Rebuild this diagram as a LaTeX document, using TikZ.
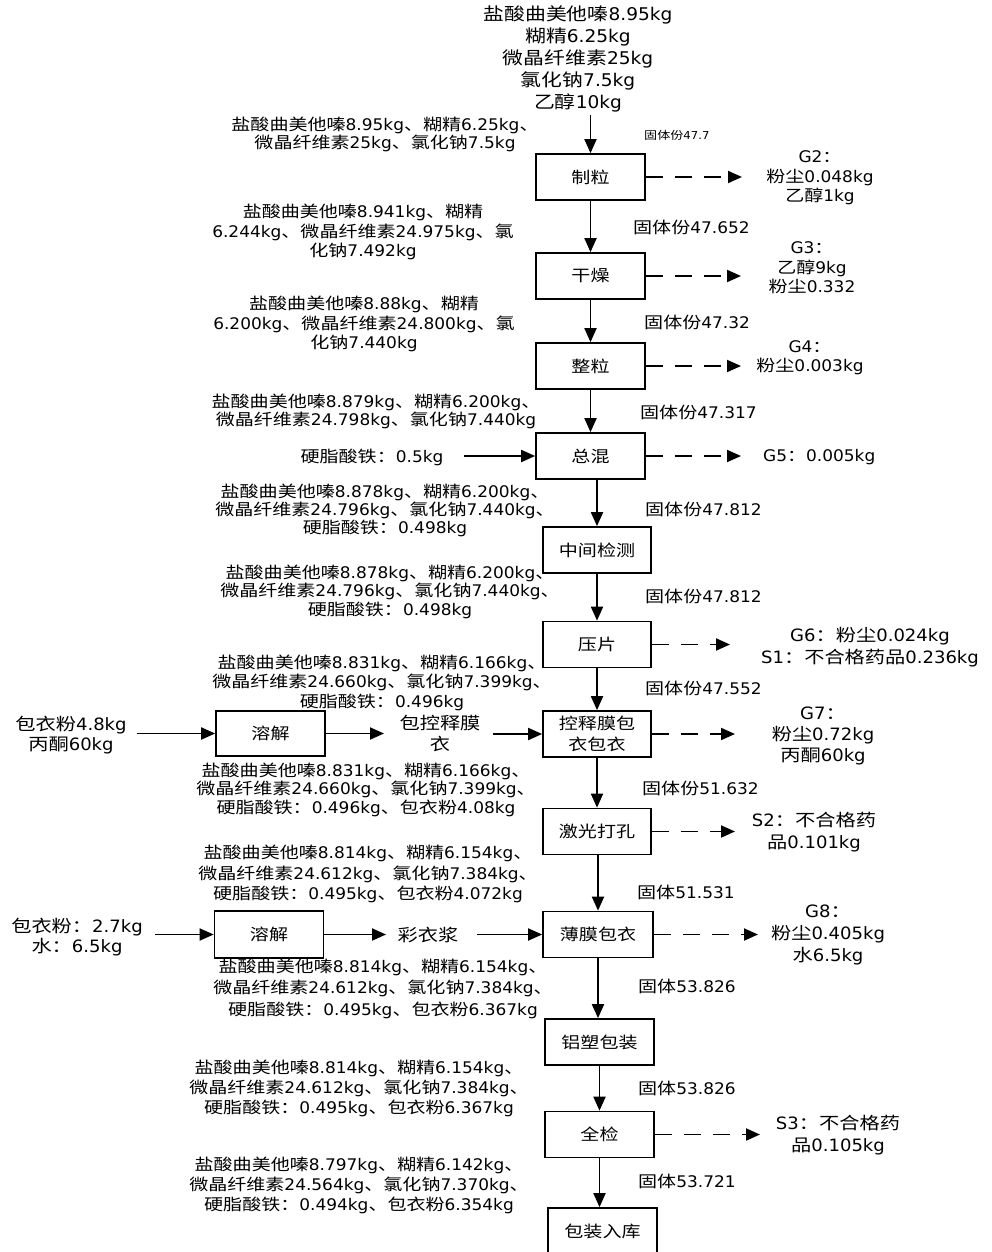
\documentclass[tikz,border=0pt]{standalone}
\usepackage{fontspec}
\setmainfont{DejaVu Sans}[FakeStretch=1.06]
\newfontfamily\latf{DejaVu Sans}[FakeStretch=1.06]
\newfontfamily\cjkf{Noto Sans CJK SC}[FakeStretch=1.19]
\usetikzlibrary{arrows.meta}
\XeTeXinterchartokenstate=1
\newXeTeXintercharclass\mycjk
\makeatletter
\count@="3000
\loop\XeTeXcharclass\count@=\mycjk \advance\count@ 1 \ifnum\count@<"3040 \repeat
\count@="4E00
\loop\XeTeXcharclass\count@=\mycjk \advance\count@ 1 \ifnum\count@<"A000 \repeat
\count@="FF00
\loop\XeTeXcharclass\count@=\mycjk \advance\count@ 1 \ifnum\count@<"FFF0 \repeat
\makeatother
\XeTeXinterchartoks 0 \mycjk = {\cjkf}
\XeTeXinterchartoks 4095 \mycjk = {\cjkf}
\XeTeXinterchartoks \mycjk 0 = {\latf}
\XeTeXinterchartoks \mycjk 4095 = {\latf}
\tikzset{
  arr/.style={line width=1.9pt, -{Triangle[length=14pt,width=12pt]}},
  darr/.style={line width=1.9pt, dash pattern=on 17pt off 12pt, -{Triangle[length=14pt,width=12pt]}},
  pbox/.style={draw, line width=1.7pt, minimum width=109pt, minimum height=46pt, inner sep=0pt, align=center, font=\fontsize{16}{21}\selectfont},
  txt/.style={inner sep=0pt, align=center, font=\fontsize{16}{#1}\selectfont},
  txt/.default=19.5,
  bigtxt/.style={inner sep=0pt, align=center, font=\fontsize{17}{#1}\selectfont},
  bigtxt/.default=22,
  toptxt/.style={inner sep=0pt, align=center, font=\fontsize{17.5}{22}\selectfont},
  sol/.style={inner sep=0pt, anchor=west, font=\fontsize{16}{19}\selectfont},
  smalltxt/.style={inner sep=0pt, anchor=west, font=\fontsize{11}{13}\selectfont}
}
\begin{document}
\begin{tikzpicture}[x=1pt,y=-1pt]
\useasboundingbox (0,0) rectangle (991,1252);
% process boxes
\node[pbox] (zl) at (590.5,177) {制粒};
\node[pbox] (gz) at (590.5,276) {干燥};
\node[pbox] (zhl) at (590.5,366) {整粒};
\node[pbox] (zh) at (590.5,456) {总混};
\node[pbox, minimum width=108pt] (jc) at (597,550) {中间检测};
\node[pbox, minimum width=108pt] (yp) at (597,644.5) {压片};
\node[pbox, minimum width=108pt] (kz) at (597,734) {控释膜包\\衣包衣};
\node[pbox, minimum width=108pt] (jg) at (597,831.5) {激光打孔};
\node[pbox, minimum width=110pt] (bm) at (598,934.5) {薄膜包衣};
\node[pbox] (ls) at (599.5,1042) {铝塑包装};
\node[pbox] (qj) at (599.5,1134.5) {全检};
\node[pbox, minimum height=47pt] (bz) at (602.5,1231.5) {包装入库};
\node[pbox, minimum height=45pt] (rj1) at (270.5,733.5) {溶解};
\node[pbox, minimum height=47pt] (rj2) at (269,934.5) {溶解};
% main flow
\coordinate (topin) at (590.5,115);
\draw[arr] (topin) -- (zl.north);
\draw[arr] (zl) -- (gz);
\draw[arr] (gz) -- (zhl);
\draw[arr] (zhl) -- (zh);
\draw[arr] (zh.south -| jc.north) -- (jc.north);
\draw[arr] (jc) -- (yp);
\draw[arr] (yp) -- (kz);
\draw[arr] (kz) -- (jg);
\draw[arr] (jg.south -| bm.north) -- (bm.north);
\draw[arr] (bm.south) -- (bm.south |- ls.north);
\draw[arr] (ls) -- (qj);
\draw[arr] (qj.south) -- (qj.south |- bz.north);
% top texts
\node[toptxt] (t0) at (578,59) {盐酸曲美他嗪8.95kg\\糊精6.25kg\\微晶纤维素25kg\\氯化钠7.5kg\\乙醇10kg};
\node[txt=18] (l1) at (385,134) {盐酸曲美他嗪8.95kg、糊精6.25kg、\\微晶纤维素25kg、氯化钠7.5kg};
\node[txt] (l2) at (363,232) {盐酸曲美他嗪8.941kg、糊精\\6.244kg、微晶纤维素24.975kg、氯\\化钠7.492kg};
\node[txt] (l3) at (364,324) {盐酸曲美他嗪8.88kg、糊精\\6.200kg、微晶纤维素24.800kg、氯\\化钠7.440kg};
\node[txt=18] (l4) at (376,411) {盐酸曲美他嗪8.879kg、糊精6.200kg、\\微晶纤维素24.798kg、氯化钠7.440kg};
\node[txt] (fe) at (372,457) {硬脂酸铁：0.5kg};
\node[txt=18] (l6) at (385,510) {盐酸曲美他嗪8.878kg、糊精6.200kg、\\微晶纤维素24.796kg、氯化钠7.440kg、\\硬脂酸铁：0.498kg};
\node[txt=18.5] (l7) at (390,591.5) {盐酸曲美他嗪8.878kg、糊精6.200kg、\\微晶纤维素24.796kg、氯化钠7.440kg、\\硬脂酸铁：0.498kg};
\node[txt] (l8) at (382,682.5) {盐酸曲美他嗪8.831kg、糊精6.166kg、\\微晶纤维素24.660kg、氯化钠7.399kg、\\硬脂酸铁：0.496kg};
\node[bigtxt=20] (in1) at (71,735) {包衣粉4.8kg\\丙酮60kg};
\node[bigtxt=21] (kt1) at (440,733.5) {包控释膜\\衣};
\node[txt=18.5] (l11) at (366,789.5) {盐酸曲美他嗪8.831kg、糊精6.166kg、\\微晶纤维素24.660kg、氯化钠7.399kg、\\硬脂酸铁：0.496kg、包衣粉4.08kg};
\node[txt=20.5] (l12) at (368,874) {盐酸曲美他嗪8.814kg、糊精6.154kg、\\微晶纤维素24.612kg、氯化钠7.384kg、\\硬脂酸铁：0.495kg、包衣粉4.072kg};
\node[bigtxt=20] (in2) at (77,937) {包衣粉：2.7kg\\水：6.5kg};
\node[bigtxt] (cy) at (428,935) {彩衣浆};
\node[txt=21.5] (l13) at (383,988.5) {盐酸曲美他嗪8.814kg、糊精6.154kg、\\微晶纤维素24.612kg、氯化钠7.384kg、\\硬脂酸铁：0.495kg、包衣粉6.367kg};
\node[txt=20] (l14) at (359,1088) {盐酸曲美他嗪8.814kg、糊精6.154kg、\\微晶纤维素24.612kg、氯化钠7.384kg、\\硬脂酸铁：0.495kg、包衣粉6.367kg};
\node[txt=20] (l15) at (359,1185) {盐酸曲美他嗪8.797kg、糊精6.142kg、\\微晶纤维素24.564kg、氯化钠7.370kg、\\硬脂酸铁：0.494kg、包衣粉6.354kg};
% side inputs
\coordinate (fea) at (464,456);
\draw[arr] (fea) -- (zh.west);
\coordinate (in1a) at (137,733.5);
\draw[arr] (in1a) -- (rj1.west);
\coordinate (kt1a) at (384,733.5);
\draw[arr] (rj1.east) -- (kt1a);
\coordinate (kt1b) at (493,734);
\draw[arr] (kt1b) -- (kz.west);
\coordinate (in2a) at (155,934.5);
\draw[arr] (in2a) -- (rj2.west);
\coordinate (cya) at (386,934.5);
\draw[arr] (rj2.east) -- (cya);
\coordinate (cyb) at (477,934.5);
\draw[arr] (cyb) -- (bm.west);
% solids labels
\node[smalltxt] (s0) at (644,135) {固体份47.7};
\node[sol] (s1) at (633,227) {固体份47.652};
\node[sol] (s2) at (644,322) {固体份47.32};
\node[sol] (s3) at (640,412) {固体份47.317};
\node[sol] (s4) at (645,509) {固体份47.812};
\node[sol] (s5) at (645,596) {固体份47.812};
\node[sol] (s6) at (645,688) {固体份47.552};
\node[sol] (s7) at (642,788) {固体份51.632};
\node[sol] (s8) at (637,892) {固体51.531};
\node[sol] (s9) at (638,986) {固体53.826};
\node[sol] (s10) at (638,1088) {固体53.826};
\node[sol] (s11) at (638,1181) {固体53.721};
% emissions
\node[txt] (g2) at (820,178) {G2：\\粉尘0.048kg\\乙醇1kg};
\node[txt] (g3) at (812,268) {G3：\\乙醇9kg\\粉尘0.332};
\node[txt] (g4) at (810,357.5) {G4：\\粉尘0.003kg};
\node[sol] (g5) at (763,457) {G5：0.005kg};
\node[bigtxt] (g6) at (870,647) {G6：粉尘0.024kg\\S1：不合格药品0.236kg};
\node[bigtxt=21] (g7) at (823,736) {G7：\\粉尘0.72kg\\丙酮60kg};
\node[bigtxt] (sx2) at (814,832) {S2：不合格药\\品0.101kg};
\node[bigtxt] (g8) at (828,935) {G8：\\粉尘0.405kg\\水6.5kg};
\node[bigtxt] (sx3) at (838,1135) {S3：不合格药\\品0.105kg};
\coordinate (g2a) at (742,177);
\coordinate (g3a) at (741,276);
\coordinate (g4a) at (741,366);
\coordinate (g5a) at (741,456);
\coordinate (g6a) at (730,644.5);
\coordinate (g7a) at (735,734);
\coordinate (s2a) at (735,831.5);
\coordinate (g8a) at (758,934.5);
\coordinate (s3a) at (760,1134.5);
\draw[darr] (zl.east) -- (g2a);
\draw[darr] (gz.east) -- (g3a);
\draw[darr] (zhl.east) -- (g4a);
\draw[darr] (zh.east) -- (g5a);
\draw[darr] (yp.east) -- (g6a);
\draw[darr] (kz.east) -- (g7a);
\draw[darr] (jg.east) -- (s2a);
\draw[darr] (bm.east) -- (g8a);
\draw[darr] (qj.east) -- (s3a);
\end{tikzpicture}
\end{document}
